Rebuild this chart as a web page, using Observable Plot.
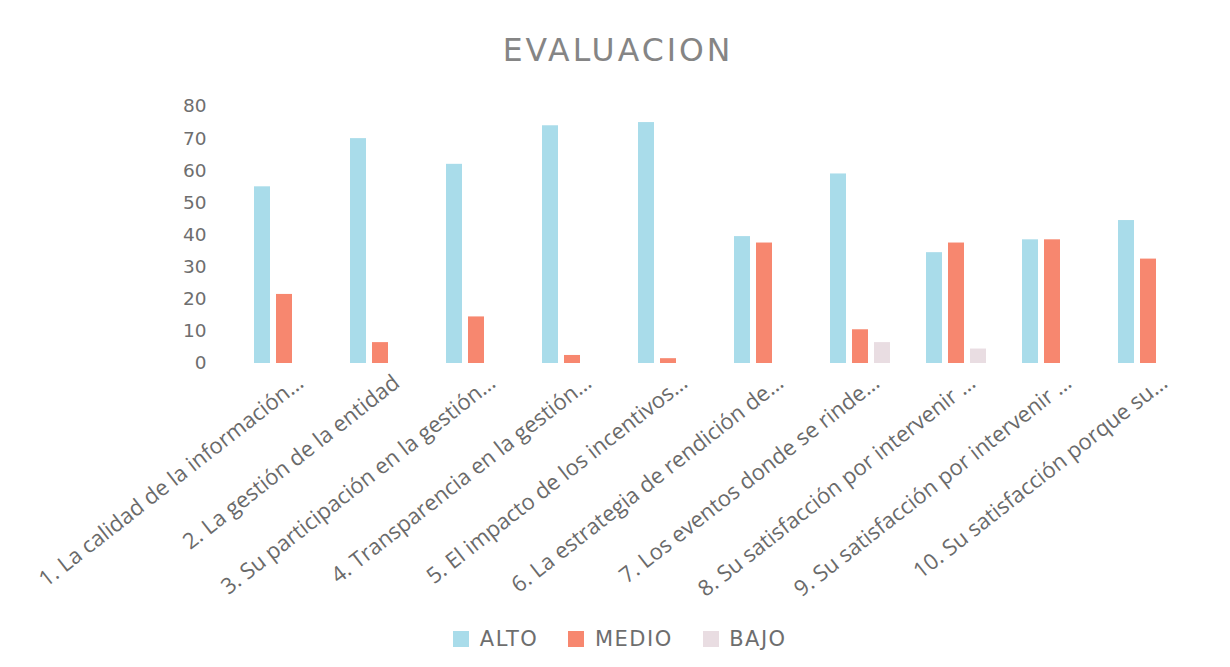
<!DOCTYPE html>
<html><head><meta charset="utf-8">
<script src="https://cdn.jsdelivr.net/npm/d3@7"></script>
<script src="https://cdn.jsdelivr.net/npm/@observablehq/plot@0.6"></script>
<style>
body{margin:0;background:#fff;width:1230px;height:667px;overflow:hidden}
#title{height:80px;line-height:100px;text-align:center;font-family:"DejaVu Sans";font-size:31.5px;letter-spacing:3px;color:#858585;padding-left:6px}
#chart svg{display:block}
#legend{display:flex;justify-content:center;height:46px;align-items:flex-end;padding-left:40px}
#legend > div > span{margin-right:30px !important}
</style></head><body>
<div id="title">EVALUACION</div>
<div id="chart"></div>
<div id="legend"></div>
<script>
const categories = [
  "1. La calidad de la información…",
  "2. La gestión de la entidad",
  "3. Su participación en la gestión…",
  "4. Transparencia en la gestión…",
  "5. El impacto de los incentivos…",
  "6. La estrategia de rendición de…",
  "7. Los eventos donde se rinde…",
  "8. Su satisfacción por intervenir …",
  "9. Su satisfacción por intervenir …",
  "10. Su satisfacción porque su…"
];
const series = ["ALTO", "MEDIO", "BAJO"];
const alto  = [55, 70, 62, 74, 75, 39.5, 59, 34.5, 38.5, 44.5];
const medio = [21.5, 6.5, 14.5, 2.5, 1.5, 37.5, 10.5, 37.5, 38.5, 32.5];
const bajo  = [0, 0, 0, 0, 0, 0, 6.5, 4.5, 0, 0];
const colors = ["#a9dcea", "#f7876f", "#e9dde2"];
const yTicks = [0, 10, 20, 30, 40, 50, 60, 70, 80];

const data = categories.flatMap((c, i) => [
  {cat: i + 1, serie: "ALTO", value: alto[i]},
  {cat: i + 1, serie: "MEDIO", value: medio[i]},
  {cat: i + 1, serie: "BAJO", value: bajo[i]}
]);

const chart = Plot.plot({
  width: 1230, height: 540,
  marginTop: 26, marginBottom: 257, marginLeft: 235, marginRight: 33,
  style: {fontFamily: "Open Sans", background: "transparent"},
  fx: {domain: d3.range(1, categories.length + 1), paddingInner: 0.365, paddingOuter: 0.1825, label: null},
  x: {domain: series, paddingInner: 0.258, paddingOuter: 0, axis: null},
  y: {domain: [0, 80], label: null},
  color: {domain: series, range: colors},
  marks: [
    Plot.barY(data, {fx: "cat", x: "serie", y: "value", fill: "serie"}),
    Plot.axisY({ticks: yTicks, tickSize: 0, tickPadding: 48, fontSize: 18.5, fontFamily: "DejaVu Sans", fill: "#6e6e6e", label: null}),
    Plot.axisFx({anchor: "bottom", tickRotate: -38, tickSize: 0, tickPadding: 0, textAnchor: "end", lineAnchor: "bottom",
      dx: 20, dy: 22, fontSize: 22, fill: "#6a6a6a", label: null,
      tickFormat: d => categories[d - 1]})
  ]
});
document.getElementById("chart").appendChild(chart);
const leg = chart.legend("color", {swatchSize: 16, style: {fontSize: "21px", letterSpacing: "1.5px", fontFamily: "DejaVu Sans", color: "#6e6e6e"}});
document.getElementById("legend").appendChild(leg);
</script>
</body></html>
